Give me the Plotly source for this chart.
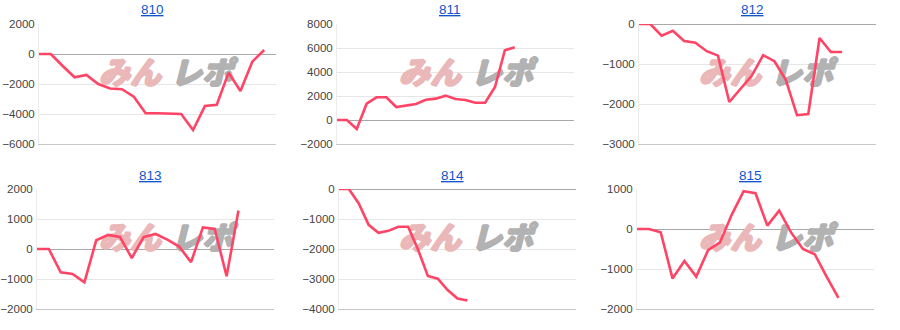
import plotly.graph_objects as go

titles = ["810", "811", "812", "813", "814", "815"]

s810 = [0, 0, -800, -1550, -1400, -2000, -2300, -2350, -2850, -3950, -3950, -4000, -4000, -5070, -3470, -3380, -1240, -2470, -510, 270]
s811 = [0, 0, -750, 1360, 1890, 1890, 1080, 1190, 1330, 1690, 1780, 2030, 1750, 1670, 1440, 1440, 2750, 5810, 6060]
s812 = [0, 0, -290, -170, -425, -470, -680, -790, -1950, -1625, -1290, -780, -930, -1390, -2280, -2250, -350, -700, -700]
s813 = [0, 0, -780, -830, -1110, 290, 470, 400, -300, 400, 500, 310, 80, -440, 720, 670, -910, 1280]
s814 = [0, 0, -480, -1195, -1460, -1395, -1260, -1260, -2020, -2900, -2990, -3370, -3650, -3720]
s815 = [0, 0, -80, -1240, -800, -1190, -530, -335, 360, 945, 895, 85, 460, -85, -500, -630, -1190, -1720]

series = [s810, s811, s812, s813, s814, s815]
y_ranges = [(-6000, 2000), (-2000, 8000), (-3000, 0), (-2000, 2000), (-4000, 0), (-2000, 1000)]
y_dticks = [2000, 2000, 1000, 1000, 1000, 1000]
x_max = [20, 24, 21, 20, 24, 20]

W, H = 900, 330
# plot-area pixel boxes (left, right, top, bottom)
boxes = [
    (39, 276, 24, 144), (337, 574, 24, 144), (639, 876, 24, 144),
    (37, 274, 189, 309), (339, 576, 189, 309), (637, 874, 189, 309),
]
title_x = [152, 450, 752, 150, 452, 750]
title_y = [10, 10, 10, 175, 175, 175]

PINK = "#eab8b8"
GREY = "#b2b2b2"

def thick(c):
    return f"1px 0 0 {c}, -1px 0 0 {c}, 0 1px 0 {c}, 0 -1px 0 {c}"

fig = go.Figure()
annotations = []
for i, (vals, box) in enumerate(zip(series, boxes)):
    n = i + 1
    xa = "x" if n == 1 else f"x{n}"
    ya = "y" if n == 1 else f"y{n}"
    l, r, t, b = box
    y0, y1 = y_ranges[i]

    # watermark (drawn beneath the line), placed relative to the plot box
    cx0 = (i % 3) * 300
    cy = 76 if i < 3 else 241
    def to_data(px, py):
        return (x_max[i] * (px - l) / (r - l), y1 - (y1 - y0) * (py - t) / (b - t))
    wx1, wy1 = to_data(cx0 + 130, cy)
    wx2, wy2 = to_data(cx0 + 202, cy)
    fig.add_trace(go.Scatter(
        x=[wx1], y=[wy1], mode="text", text=["みん"], xaxis=xa, yaxis=ya,
        textfont=dict(family="Noto Sans CJK JP", size=31, color=PINK, weight=900,
                      style="italic", shadow=thick(PINK)),
        showlegend=False, hoverinfo="skip", cliponaxis=False,
    ))
    fig.add_trace(go.Scatter(
        x=[wx2], y=[wy2], mode="text", text=["レポ"], xaxis=xa, yaxis=ya,
        textfont=dict(family="Noto Sans CJK JP", size=31, color=GREY, weight=900,
                      style="italic", shadow=thick(GREY)),
        showlegend=False, hoverinfo="skip", cliponaxis=False,
    ))

    fig.add_trace(go.Scatter(
        x=list(range(len(vals))), y=vals, mode="lines",
        line=dict(color="#ff4466", width=2.6), xaxis=xa, yaxis=ya,
        showlegend=False, hoverinfo="skip",
    ))
    xkey = "xaxis" if n == 1 else f"xaxis{n}"
    ykey = "yaxis" if n == 1 else f"yaxis{n}"
    fig.layout[xkey] = dict(
        domain=[l / W, r / W], range=[0, x_max[i]], anchor=ya,
        showgrid=False, zeroline=False, showticklabels=False, ticks="",
        showline=True, linecolor="#c8c8c8", linewidth=1, mirror=False,
        fixedrange=True, automargin=False,
    )
    fig.layout[ykey] = dict(
        domain=[1 - b / H, 1 - t / H], range=[y0, y1], anchor=xa,
        dtick=y_dticks[i], tick0=0, showgrid=True, gridcolor="#e6e6e6", gridwidth=1,
        zeroline=True, zerolinecolor="#a8a8a8", zerolinewidth=1,
        showline=True, linecolor="#ececec", linewidth=1,
        tickfont=dict(family="Liberation Sans, Arial, sans-serif", size=11.5, color="#444444"),
        ticks="", ticklabelstandoff=1, fixedrange=True, automargin=False,
    )
    annotations.append(dict(
        x=title_x[i] / W, y=1 - title_y[i] / H, xref="paper", yref="paper",
        text=f"<span style='text-decoration:underline'>{titles[i]}</span>",
        showarrow=False, xanchor="center", yanchor="middle",
        font=dict(family="Liberation Sans, Arial, sans-serif", size=13.5, color="#1155cc"),
    ))

fig.update_layout(
    width=W, height=H, margin=dict(l=0, r=0, t=0, b=0, autoexpand=False),
    paper_bgcolor="white", plot_bgcolor="white",
    annotations=annotations,
)
fig.write_html("out.html", include_plotlyjs=True, config={"displayModeBar": False})
